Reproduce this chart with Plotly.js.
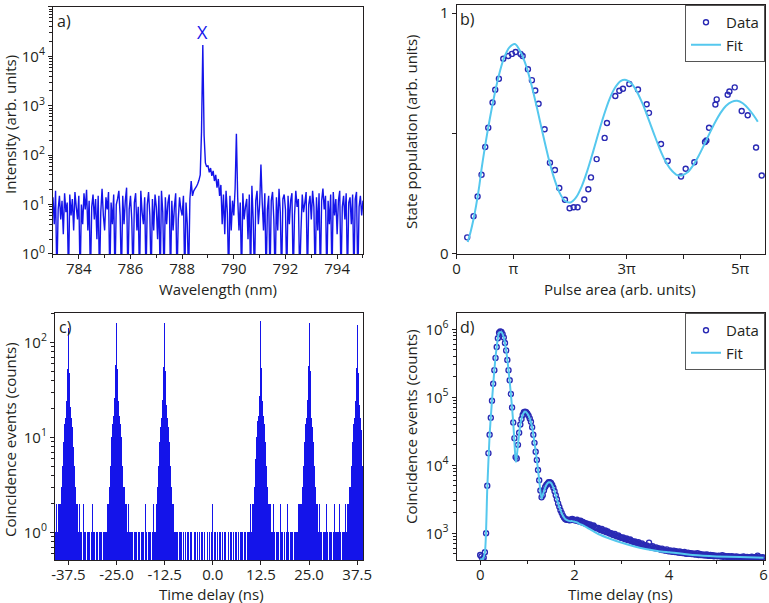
<!DOCTYPE html>
<html><head><meta charset="utf-8">
<script src="https://cdn.plot.ly/plotly-3.0.1.min.js"></script>
<style>html,body{margin:0;padding:0;background:#fff}#chart{width:769px;height:603px}</style>
</head><body><div id="chart"></div>
<script>
// ---------- panel a: spectrum ----------
const aStart = 783.0, aStep = 0.05;
const aIntensity = [
 14, 4, 19, 0.3, 8, 15, 5, 12, 2.5, 17,
 7, 11, 0.3, 16, 6, 13, 3, 18, 9, 5,
 15, 0.3, 10, 4, 17, 8, 20, 3, 12, 0.3,
 9, 16, 5, 13, 2, 15, 0.3, 7, 21, 6,
 3, 14, 8, 18, 0.3, 11, 4, 16, 0.3, 10,
 13, 19, 6, 0.3, 15, 4, 12, 22, 0.3, 8,
 15, 5, 0.3, 11, 17, 3, 9, 0.3, 19, 7,
 4, 14, 0.3, 10, 18, 6, 0.3, 13, 3, 16,
 9, 2, 15, 0.3, 19, 7, 0.3, 14, 4, 11,
 16, 0.3, 12, 3, 9, 17, 0.3, 5, 14, 8,
 6, 15, 0.3, 11, 4, 0.3, 13, 30, 15, 19,
 21, 23, 26, 31, 40, 300, 17000, 250, 70, 58,
 62, 45, 55, 38, 48, 30, 40, 22, 33, 15,
 25, 4, 16, 2.5, 19, 7, 0.3, 15, 3, 12,
 6, 21, 270, 14, 3, 11, 0.3, 17, 5, 9,
 13, 2, 16, 0.3, 24, 5, 0.3, 12, 19, 4,
 10, 65, 11, 3, 17, 0.3, 8, 15, 0.3, 12,
 18, 5, 0.3, 14, 3, 21, 7, 0.3, 13, 16,
 8, 0.3, 15, 4, 12, 17, 0.3, 6, 19, 9,
 13, 0.3, 3, 16, 7, 11, 18, 0.3, 10, 15,
 5, 19, 9, 0.3, 14, 3, 17, 0.3, 12, 21,
 8, 15, 0.3, 12, 4, 16, 0.3, 18, 6, 13,
 2.5, 12, 19, 0.3, 9, 15, 5, 17, 0.3, 11,
 14, 4, 16, 0.3, 13, 18, 0.3, 9, 15, 6,
 12
];
const aPeakLabel = 'X', aPeakWavelength = 788.8;

// ---------- panel b: Rabi oscillation ----------
const bArea = [0.188,0.300,0.371,0.441,0.506,0.559,0.635,0.682,0.747,0.824,0.912,0.976,1.041,1.129,1.165,1.259,1.329,1.388,1.447,1.553,1.647,1.735,1.812,1.912,1.994,2.065,2.135,2.253,2.324,2.371,2.471,2.612,2.653,2.800,2.871,2.935,3.047,3.200,3.353,3.394,3.606,3.724,3.959,4.041,4.194,4.382,4.406,4.453,4.565,4.588,4.782,4.812,4.906,5.029,5.135,5.282,5.382];
const bPop = [0.069,0.157,0.239,0.329,0.444,0.524,0.629,0.682,0.728,0.811,0.822,0.831,0.839,0.831,0.822,0.767,0.722,0.679,0.624,0.518,0.379,0.349,0.274,0.225,0.190,0.194,0.194,0.226,0.269,0.318,0.394,0.482,0.544,0.656,0.678,0.686,0.706,0.683,0.622,0.586,0.457,0.386,0.322,0.354,0.381,0.465,0.471,0.524,0.621,0.642,0.661,0.675,0.692,0.594,0.576,0.442,0.326];
const bFitArea = [0.197,0.246,0.295,0.344,0.393,0.442,0.491,0.54,0.638,0.736,0.834,0.932,1.03,1.128,1.226,1.324,1.422,1.52,1.618,1.716,1.814,1.912,2.01,2.108,2.206,2.304,2.402,2.5,2.598,2.696,2.794,2.892,2.99,3.088,3.186,3.284,3.382,3.48,3.578,3.676,3.774,3.872,3.97,4.068,4.166,4.264,4.362,4.46,4.558,4.656,4.754,4.852,4.95,5.048,5.146,5.244,5.313];
const bFitPop = [0.05,0.09,0.14,0.20,0.27,0.355,0.43,0.50,0.625,0.732,0.812,0.858,0.872,0.840,0.782,0.700,0.603,0.50,0.402,0.318,0.256,0.220,0.214,0.235,0.280,0.344,0.420,0.50,0.576,0.642,0.690,0.718,0.723,0.707,0.672,0.622,0.562,0.50,0.440,0.389,0.352,0.330,0.326,0.338,0.366,0.405,0.451,0.50,0.546,0.586,0.616,0.632,0.636,0.626,0.604,0.574,0.549];
const bTickVals = [0,1,2,3,4,5];
const bTickText = ['0','\u03c0','','3\u03c0','','5\u03c0'];

// ---------- panel c: correlation histogram ----------
const cStart = -40.75, cStep = 0.25;
const cCounts = [
 1,2,1,2,2,2,3,5,9,14,
 16,24,52,142,48,21,16,13,8,5,
 3,2,2,1,2,1,1,1,0,2,
 1,1,0,1,1,1,0,1,2,1,
 1,0,1,1,0,1,1,1,0,1,
 1,1,2,1,2,2,3,5,10,14,
 17,26,58,162,52,24,17,14,10,5,
 3,3,2,2,1,2,1,1,0,1,
 1,0,1,1,1,0,1,1,0,1,
 1,1,0,2,1,0,1,1,1,0,
 1,2,1,1,2,2,3,5,9,13,
 16,25,55,162,50,22,16,13,9,5,
 3,2,2,1,1,1,1,0,1,1,
 1,0,1,1,0,1,0,1,1,0,
 1,1,0,0,1,1,0,1,0,1,
 0,1,1,0,1,0,0,1,1,0,
 1,0,1,2,0,1,1,0,1,0,
 1,1,0,1,0,1,1,0,0,1,
 0,1,1,0,1,1,0,1,1,0,
 1,0,1,1,1,0,1,1,0,1,
 1,1,2,1,2,2,3,6,10,15,
 17,27,60,170,54,24,17,14,9,5,
 3,2,2,2,1,1,2,1,0,1,
 1,1,0,2,1,1,0,1,1,0,
 1,2,1,0,1,1,1,0,1,1,
 1,1,2,2,2,2,3,5,9,14,
 16,25,56,160,50,23,16,13,9,5,
 3,2,2,1,2,1,1,0,1,1,
 1,2,1,0,1,1,1,0,1,2,
 1,1,0,1,1,2,1,0,1,1,
 1,2,1,2,2,3,3,5,9,14,
 16,24,54,153,48,22,16,12,8,5
];
const cTickVals = [-37.5,-25,-12.5,0,12.5,25,37.5];
const cTickText = ['-37.5','-25.0','-12.5','0.0','12.5','25.0','37.5'];

// ---------- panel d: time-resolved decay ----------
const dStart = 0, dStep = 0.025;
const dCounts = [
 479,457,417,437,525, 1000,5000,15100,28200,50100,
 89100,158000,251000,380000,550000, 741000,891000,933000,912000,851000,
 759000,631000,490000,355000,251000, 178000,112000,70800,42700,25100,
 13200,12600,20000,30200,39800, 47900,55000,60300,61700,60300,
 57500,53700,49000,43700,36300, 28200,21400,15800,12000,8510,
 6030,4270,3390,3630,4270, 4790,5130,5370,5620,5620,
 5500,5130,4680,4170,3630, 3160,2750,2450,2190,2000,
 1820,1700,1620,1580,1590, 1570,1550,1600,1630,1590,
 1560,
 1540,1580,1510,1490,1530,1450,1470,1420,1390,1400,
 1360,1330,1350,1290,1270,1300,1230,1210,1180,1200,
 1150,1120,1160,1090,1070,1100,1040,1060,1010,990,
 1000,960,940,975,920,900,930,880,870,855,
 870,830,815,840,800,790,810,770,760,745,
 760,730,715,740,700,690,710,675,670,655,
 665,640,730,635,620,645,610,600,620,595,
 605,585,575,595,565,570,555,580,550,545,
 560,540,535,555,530,545,525,520,540,515,
 525,510,530,505,500,520,498,510,495,505,
 490,500,485,510,480,495,478,490,475,485,
 470,488,472,465,480,468,475,460,470,465,
 458,470,462,455,475,450,465,458,448,462,
 455,445,460,448,452,440,458,445,450,442,
 448,438,455,442,436,450,440,445,435,452,
 440,445,432,448,470,438,442,430,446,438
];
const dFitTime = [0,0.05,0.1,0.15,0.2,0.25,0.3,0.35,0.4,0.45,0.5,0.55,0.6,0.65,0.7,0.75,0.76,0.8,0.85,0.9,0.95,1.0,1.05,1.1,1.15,1.2,1.25,1.3,1.35,1.4,1.45,1.5,1.55,1.6,1.65,1.7,1.75,1.8,1.85,1.9,1.95,2.0,2.05,2.1,2.2,2.3,2.4,2.5,2.75,3.0,3.25,3.5,3.75,4.0,4.5,5.0,5.5,6.0];
const dFitCounts = [417,417,525,4470,28200,89100,251000,550000,891000,912000,759000,490000,251000,112000,42700,12000,11200,20000,39800,55000,61700,57500,49000,36300,21400,12000,6030,3240,4170,5130,5620,5500,4680,3630,2750,2190,1820,1620,1550,1510,1510,1480,1450,1380,1290,1170,1070,977,832,724,646,589,550,525,479,457,447,437];

// ---------- build ----------
const aWavelength = aIntensity.map((_, i) => +(aStart + i * aStep).toFixed(3));
const cTime = cCounts.map((_, i) => cStart + i * cStep);
const cVals = cCounts.map(v => v > 0 ? v : null);
const dTime = dCounts.map((_, i) => +(dStart + i * dStep).toFixed(3));

const TXT = '#231f20';
const BLUE = '#1414ea';
const DATA = '#2a2ab4';
const FIT = '#55c8ee';
const FONT = '"Open Sans", sans-serif';
const W = 769, H = 603;

function logMinor(lo, hi) {
  const out = [];
  for (let e = lo; e < hi; e++) for (let m = 2; m <= 9; m++) out.push(m * Math.pow(10, e));
  return out;
}
function pow10Ticks(lo, hi) {
  const v = [], t = [];
  for (let e = lo; e <= hi; e++) { v.push(Math.pow(10, e)); t.push('10<sup>' + e + '</sup>'); }
  return {v, t};
}
const base = {
  showline: true, linecolor: TXT, linewidth: 1, mirror: true,
  ticks: 'outside', ticklen: 4, tickcolor: TXT, tickwidth: 1,
  showgrid: false, zeroline: false, automargin: false,
  tickfont: {family: FONT, size: 15, color: TXT}
};
const xbase = Object.assign({}, base, {ticklabelstandoff: -3});
const pa = pow10Ticks(0, 5), pc = pow10Ticks(0, 2), pd = pow10Ticks(3, 6);

const traces = [
  {x: aWavelength, y: aIntensity, type: 'scatter', mode: 'lines', xaxis: 'x', yaxis: 'y',
   line: {color: BLUE, width: 1.4, simplify: false}, showlegend: false},
  {x: bArea, y: bPop, type: 'scatter', mode: 'markers', name: 'Data', xaxis: 'x2', yaxis: 'y2',
   marker: {symbol: 'circle-open', size: 5, color: DATA, line: {width: 1.4, color: DATA}}, legend: 'legend'},
  {x: bFitArea, y: bFitPop, type: 'scatter', mode: 'lines', name: 'Fit', xaxis: 'x2', yaxis: 'y2',
   line: {color: FIT, width: 2, shape: 'spline', smoothing: 0.8}, legend: 'legend'},
  {x: cTime, y: cVals, type: 'bar', xaxis: 'x3', yaxis: 'y3', showlegend: false,
   marker: {color: BLUE, line: {width: 0}}},
  {x: dTime, y: dCounts, type: 'scatter', mode: 'markers', name: 'Data', xaxis: 'x4', yaxis: 'y4',
   marker: {symbol: 'circle-open', size: 5, color: DATA, line: {width: 1.4, color: DATA}}, legend: 'legend2'},
  {x: dFitTime, y: dFitCounts, type: 'scatter', mode: 'lines', name: 'Fit', xaxis: 'x4', yaxis: 'y4',
   line: {color: FIT, width: 2, shape: 'spline', smoothing: 0.6}, legend: 'legend2'}
];

const legendStyle = {
  xanchor: 'right', yanchor: 'top', bgcolor: '#fff', bordercolor: '#555', borderwidth: 1,
  font: {family: FONT, size: 15, color: TXT}, tracegroupgap: 0, itemwidth: 30
};

// axis titles placed as paper-anchored text (pixel centres from the reference)
function xTitle(text, px, py) {
  return {text, xref: 'paper', yref: 'paper', x: px / W, y: 1 - py / H, xanchor: 'center', yanchor: 'middle',
          showarrow: false, font: {family: FONT, size: 15, color: TXT}};
}
function yTitle(text, px, py) {
  return {text, xref: 'paper', yref: 'paper', x: px / W, y: 1 - py / H, xanchor: 'center', yanchor: 'middle',
          textangle: -90, showarrow: false, font: {family: FONT, size: 15, color: TXT}};
}
function panelLabel(text, ax, ay) {
  return {text, xref: ax + ' domain', yref: ay + ' domain', x: 0.005, y: 0.995, xanchor: 'left', yanchor: 'top',
          showarrow: false, font: {family: FONT, size: 16, color: TXT}};
}

const layout = {
  width: W, height: H, margin: {l: 0, r: 0, t: 0, b: 0},
  paper_bgcolor: '#fff', plot_bgcolor: '#fff',
  font: {family: FONT, size: 15, color: TXT},
  barmode: 'overlay', bargap: 0,
  xaxis: Object.assign({}, xbase, {domain: [0.0689, 0.472], range: [783, 795], anchor: 'y',
    tickvals: [784, 786, 788, 790, 792, 794],
    minor: {ticks: 'outside', ticklen: 3, dtick: 1, tick0: 783, tickcolor: TXT}}),
  yaxis: Object.assign({}, base, {domain: [0.5788, 0.9884], type: 'log', range: [0, 5], anchor: 'x',
    tickvals: pa.v, ticktext: pa.t,
    minor: {ticks: 'outside', ticklen: 3, tickvals: logMinor(0, 5), tickcolor: TXT}}),
  xaxis2: Object.assign({}, xbase, {domain: [0.5937, 0.9948], range: [0, 5.44], anchor: 'y2',
    tickvals: bTickVals, ticktext: bTickText}),
  yaxis2: Object.assign({}, base, {domain: [0.5788, 0.9917], range: [0, 1.034], anchor: 'x2',
    tickvals: [0, 0.5, 1], ticktext: ['0', '', '1']}),
  xaxis3: Object.assign({}, xbase, {domain: [0.0715, 0.472], range: [-41, 39], anchor: 'y3',
    tickvals: cTickVals, ticktext: cTickText}),
  yaxis3: Object.assign({}, base, {domain: [0.0713, 0.4809], type: 'log', range: [-0.29, 2.31], anchor: 'x3',
    tickvals: pc.v, ticktext: pc.t,
    minor: {ticks: 'outside', ticklen: 3, tickvals: logMinor(-1, 3), tickcolor: TXT}}),
  xaxis4: Object.assign({}, xbase, {domain: [0.5937, 0.9948], range: [-0.5, 6.03], anchor: 'y4',
    tickvals: [0, 2, 4, 6], minor: {ticks: 'outside', ticklen: 3, dtick: 1, tick0: 0, tickcolor: TXT}}),
  yaxis4: Object.assign({}, base, {domain: [0.0713, 0.4809], type: 'log', range: [2.607, 6.24], anchor: 'x4',
    tickvals: pd.v, ticktext: pd.t,
    minor: {ticks: 'outside', ticklen: 3, tickvals: logMinor(2, 7), tickcolor: TXT}}),
  legend: Object.assign({}, legendStyle, {x: 0.9948, y: 0.9917}),
  legend2: Object.assign({}, legendStyle, {x: 0.9948, y: 0.4809}),
  annotations: [
    panelLabel('a)', 'x', 'y'),
    panelLabel('b)', 'x2', 'y2'),
    panelLabel('c)', 'x3', 'y3'),
    panelLabel('d)', 'x4', 'y4'),
    {text: aPeakLabel, xref: 'x', yref: 'y', x: aPeakWavelength, y: 4.5, showarrow: false,
     font: {family: FONT, size: 18, color: BLUE}},
    xTitle('Wavelength (nm)', 218, 289),
    xTitle('Pulse area (arb. units)', 620, 289),
    xTitle('Time delay (ns)', 212, 594),
    xTitle('Time delay (ns)', 620, 594),
    yTitle('Intensity (arb. units)', 10, 125),
    yTitle('State population (arb. units)', 411, 132),
    yTitle('Coincidence events (counts)', 10, 440),
    yTitle('Coincidence events (counts)', 411, 427)
  ]
};

Plotly.newPlot('chart', traces, layout, {displayModeBar: false, staticPlot: true});
</script></body></html>
